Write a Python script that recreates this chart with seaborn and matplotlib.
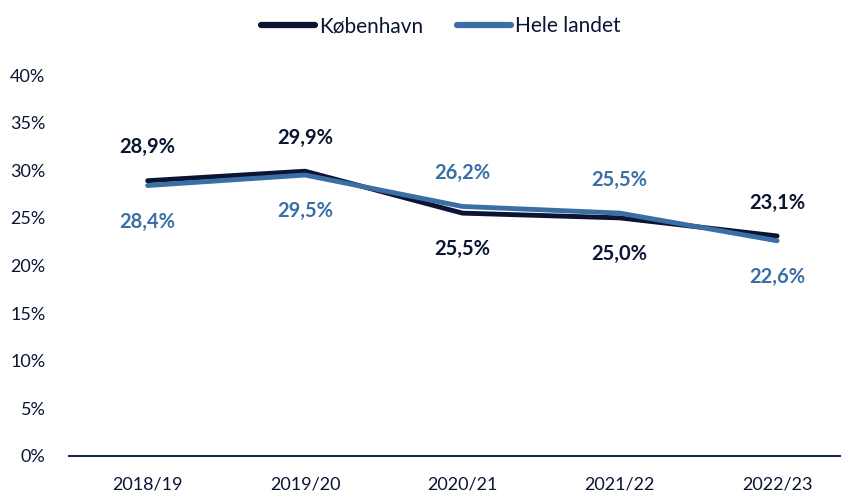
import numpy as np
import pandas as pd
import matplotlib
matplotlib.use("Agg")
import matplotlib.pyplot as plt
import seaborn as sns
from matplotlib.lines import Line2D

years = ["2018/19", "2019/20", "2020/21", "2021/22", "2022/23"]
kbh = [0.289, 0.299, 0.255, 0.250, 0.231]
hele = [0.284, 0.295, 0.262, 0.255, 0.226]
kbh_above = [True, True, False, False, True]

c_kbh = "#0b1533"
c_hele = "#3a6fa6"

sns.set_style("white")
plt.rcParams["font.family"] = ["Lato", "DejaVu Sans"]

df = pd.DataFrame({
    "x": list(range(len(years))) * 2,
    "val": kbh + hele,
    "serie": ["København"] * 5 + ["Hele landet"] * 5,
})

fig = plt.figure(figsize=(8.48, 4.93), dpi=100)
ax = fig.add_axes([69 / 848, 1 - 456 / 493, 771 / 848, 381 / 493])

sns.lineplot(data=df, x="x", y="val", hue="serie",
             palette={"København": c_kbh, "Hele landet": c_hele},
             linewidth=3.5, ax=ax, legend=False)
for l in ax.lines:
    l.set_solid_capstyle("round")

ax.set_xlim(-0.5, 4.4)
ax.set_ylim(0, 0.4)
ax.set_xticks(range(len(years)))
ax.set_xticklabels(years)
yt = np.arange(0, 0.41, 0.05)
ax.set_yticks(yt)
ax.set_yticklabels([f"{int(round(v * 100))}%" for v in yt])
ax.tick_params(axis="both", length=0, labelsize=13, colors="#0b1533")
ax.tick_params(axis="x", pad=15)
ax.tick_params(axis="y", pad=17)
ax.set_xlabel("")
ax.set_ylabel("")
for s in ["top", "right", "left"]:
    ax.spines[s].set_visible(False)
ax.spines["bottom"].set_color("#1c2a4a")
ax.spines["bottom"].set_linewidth(1.5)


def fmt(v):
    return f"{v * 100:.1f}%".replace(".", ",")


for i in range(len(years)):
    up = kbh_above[i]
    ax.annotate(fmt(kbh[i]), (i, kbh[i]), xytext=(0, 24 if up else -26),
                textcoords="offset points", ha="center", va="center",
                fontsize=14.5, fontweight="bold", color=c_kbh)
    ax.annotate(fmt(hele[i]), (i, hele[i]), xytext=(0, -26 if up else 24),
                textcoords="offset points", ha="center", va="center",
                fontsize=14.5, fontweight="bold", color=c_hele)

handles = [Line2D([0], [0], color=c_kbh, lw=4.5, solid_capstyle="round"),
           Line2D([0], [0], color=c_hele, lw=4.5, solid_capstyle="round")]
fig.legend(handles, ["København", "Hele landet"], loc="upper center",
           bbox_to_anchor=(0.52, 1.005), ncol=2, frameon=False, fontsize=15,
           handlelength=2.6, handletextpad=0.2, columnspacing=1.6,
           labelcolor="#0b1533")

fig.savefig("out.png", dpi=100)
